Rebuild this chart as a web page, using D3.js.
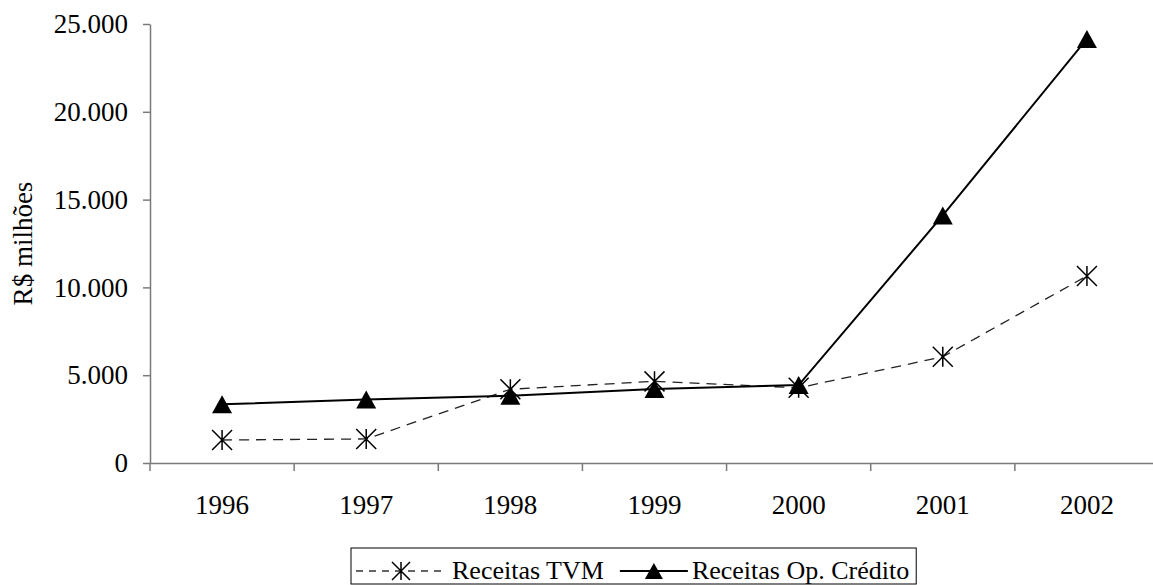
<!DOCTYPE html>
<html>
<head>
<meta charset="utf-8">
<script src="https://cdn.jsdelivr.net/npm/d3@7"></script>
<style>
  html, body { margin: 0; padding: 0; background: #fff; }
  svg { display: block; }
  text { font-family: "Liberation Serif", "Times New Roman", serif; fill: #000; }
</style>
</head>
<body>
<svg id="chart" width="1153" height="585"></svg>
<script>
// Annual revenues, R$ millions
const years = ["1996", "1997", "1998", "1999", "2000", "2001", "2002"];
const receitasTVM = [1310, 1370, 4200, 4650, 4280, 6050, 10650];
const receitasCredito = [3340, 3620, 3830, 4210, 4440, 14100, 24150];
const yTicks = [0, 5000, 10000, 15000, 20000, 25000];
const seriesNames = ["Receitas TVM", "Receitas Op. Crédito"];
const yLabel = "R$ milhões";

const svg = d3.select("#chart");
const axisFont = 27;
const legendFont = 26;
const axisColor = "#7a7a7a";

const plotLeft = 150, plotRight = 1159, plotTop = 24, plotBottom = 463;

const x = d3.scaleBand().domain(years).range([plotLeft, plotRight]).padding(0);
const y = d3.scaleLinear().domain([0, 25000]).range([plotBottom, plotTop]);

const ptBR = d3.formatLocale({ decimal: ",", thousands: ".", grouping: [3], currency: ["R$", ""] });
const fmt = ptBR.format(",d");

// Y axis
const yAxis = svg.append("g")
  .attr("transform", `translate(${plotLeft},0)`)
  .call(d3.axisLeft(y).tickValues(yTicks).tickFormat(fmt).tickSize(7).tickSizeOuter(0).tickPadding(15));
yAxis.selectAll("path, line").attr("stroke", axisColor).attr("stroke-width", 1.5);
yAxis.selectAll("text").attr("font-size", axisFont).attr("font-family", "Liberation Serif");

// X axis: labels centred on categories, ticks on category boundaries
const xAxis = svg.append("g")
  .attr("transform", `translate(0,${plotBottom})`)
  .call(d3.axisBottom(x).tickSize(0).tickSizeOuter(0).tickPadding(32));
xAxis.select("path").attr("stroke", axisColor).attr("stroke-width", 1.5);
xAxis.selectAll("text").attr("font-size", axisFont).attr("font-family", "Liberation Serif");

const bounds = years.map(d => x(d)).concat([x.range()[1]]);
svg.append("g").selectAll("line").data(bounds).join("line")
  .attr("x1", d => d).attr("x2", d => d)
  .attr("y1", plotBottom).attr("y2", plotBottom + 8)
  .attr("stroke", axisColor).attr("stroke-width", 1.5);

// Y axis title
svg.append("text")
  .attr("transform", `translate(32,${(plotTop + plotBottom) / 2}) rotate(-90)`)
  .attr("text-anchor", "middle")
  .attr("font-size", axisFont)
  .text(yLabel);

const cx = d => x(d) + x.bandwidth() / 2;

// Marker shapes
function starPath(s) {
  return `M0,${-s}L0,${s}M${-s},${-s}L${s},${s}M${-s},${s}L${s},${-s}`;
}
function triPath(w, h) {
  return `M0,${-h}L${w},${h}L${-w},${h}Z`;
}

const line = d3.line().x(d => cx(d.year)).y(d => y(d.v));
const tvmData = years.map((yr, i) => ({ year: yr, v: receitasTVM[i] }));
const credData = years.map((yr, i) => ({ year: yr, v: receitasCredito[i] }));

// Receitas TVM: dashed line with star markers
svg.append("path").datum(tvmData)
  .attr("d", line).attr("fill", "none")
  .attr("stroke", "#222").attr("stroke-width", 1.3).attr("stroke-dasharray", "10,7");

// Receitas Op. Crédito: solid line with triangle markers
svg.append("path").datum(credData)
  .attr("d", line).attr("fill", "none")
  .attr("stroke", "#000").attr("stroke-width", 2);

svg.append("g").selectAll("path").data(tvmData).join("path")
  .attr("transform", d => `translate(${cx(d.year)},${y(d.v)})`)
  .attr("d", starPath(10)).attr("stroke", "#000").attr("stroke-width", 1.5).attr("fill", "none");

svg.append("g").selectAll("path").data(credData).join("path")
  .attr("transform", d => `translate(${cx(d.year)},${y(d.v)})`)
  .attr("d", triPath(10, 9)).attr("fill", "#000");

// Legend
const lg = svg.append("g");
const lgLeft = 351, lgTop = 548, lgMid = 571;
// TVM entry
lg.append("line").attr("x1", 356).attr("x2", 446).attr("y1", lgMid).attr("y2", lgMid)
  .attr("stroke", "#333").attr("stroke-width", 1.3).attr("stroke-dasharray", "7,6");
lg.append("path").attr("transform", `translate(401,${lgMid})`)
  .attr("d", starPath(9)).attr("stroke", "#000").attr("stroke-width", 1.5).attr("fill", "none");
const t1 = lg.append("text").attr("x", 452).attr("y", lgMid + 8).attr("font-size", legendFont).text(seriesNames[0]);
let cur = 452 + t1.node().getComputedTextLength() + 16;
// Crédito entry
lg.append("line").attr("x1", cur).attr("x2", cur + 68).attr("y1", lgMid).attr("y2", lgMid)
  .attr("stroke", "#000").attr("stroke-width", 2);
lg.append("path").attr("transform", `translate(${cur + 34},${lgMid})`)
  .attr("d", triPath(9, 8)).attr("fill", "#000");
cur += 72;
const t2 = lg.append("text").attr("x", cur).attr("y", lgMid + 8).attr("font-size", legendFont).text(seriesNames[1]);
cur += t2.node().getComputedTextLength() + 7;
lg.insert("rect", ":first-child")
  .attr("x", lgLeft).attr("y", lgTop).attr("width", cur - lgLeft).attr("height", 36)
  .attr("fill", "#fff").attr("stroke", "#000").attr("stroke-width", 1);
</script>
</body>
</html>
